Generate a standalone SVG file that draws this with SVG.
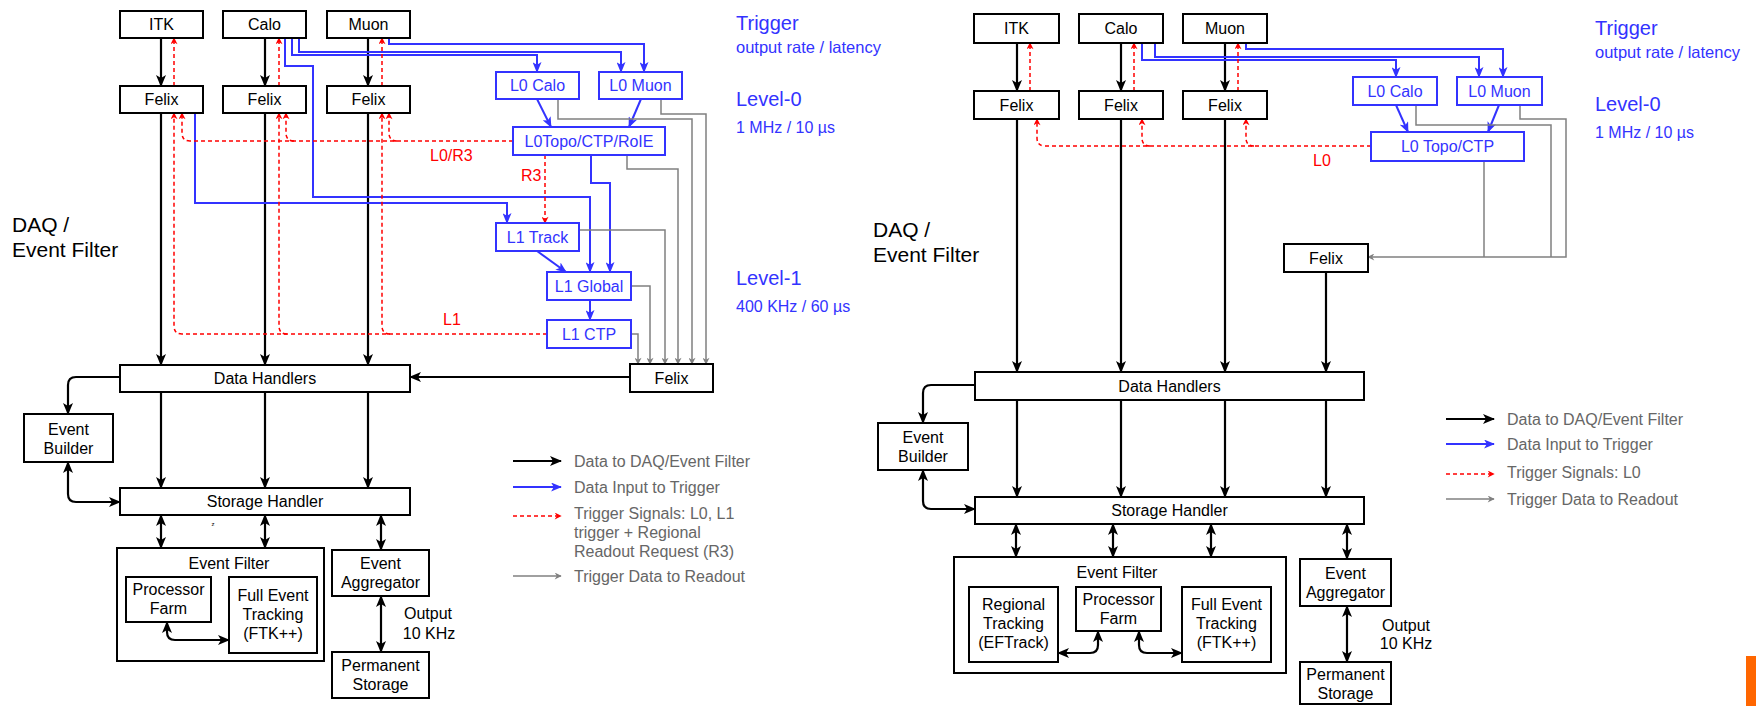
<svg xmlns="http://www.w3.org/2000/svg" width="1756" height="706" viewBox="0 0 1756 706">
<style>
text{font-family:"Liberation Sans",Arial,sans-serif;font-size:16px;}
.box{fill:#fff;stroke:#000;stroke-width:2;}
.cont{fill:none;stroke:#000;stroke-width:2;}
.bbox{fill:#fff;stroke:#3333ff;stroke-width:2;}
.t{text-anchor:middle;dominant-baseline:central;fill:#000;}
.tb{text-anchor:middle;dominant-baseline:central;fill:#3333ff;}
.blk{fill:none;stroke:#000;stroke-width:2.2;marker-end:url(#ab);}
.bi{fill:none;stroke:#000;stroke-width:2.2;marker-end:url(#ab);marker-start:url(#ab);}
.blu{fill:none;stroke:#3333ff;stroke-width:2;marker-end:url(#au);}
.red{fill:none;stroke:#ff0000;stroke-width:1.5;stroke-dasharray:4,3;marker-end:url(#ar);}
.gry{fill:none;stroke:#808080;stroke-width:1.5;marker-end:url(#ag);}
.gln{fill:none;stroke:#808080;stroke-width:1.5;}
.lbl{fill:#3333ff;dominant-baseline:central;}
.rl{fill:#ff0000;dominant-baseline:central;}
.lg{fill:#666;dominant-baseline:central;}
.big{font-size:21px;fill:#000;}
</style>
<defs>
<marker id="ab" viewBox="0 0 12 10" refX="11" refY="5" markerWidth="12" markerHeight="10" markerUnits="userSpaceOnUse" orient="auto-start-reverse"><path d="M0,0 L12,5 L0,10 L3,5 z" fill="#000"/></marker>
<marker id="au" viewBox="0 0 12 10" refX="11" refY="5" markerWidth="11" markerHeight="9" markerUnits="userSpaceOnUse" orient="auto"><path d="M0,0 L12,5 L0,10 L3,5 z" fill="#3333ff"/></marker>
<marker id="ar" viewBox="0 0 10 10" refX="9" refY="5" markerWidth="8" markerHeight="7" markerUnits="userSpaceOnUse" orient="auto"><path d="M0,0 L10,5 L0,10 L3,5 z" fill="#ff0000"/></marker>
<marker id="ag" viewBox="0 0 10 10" refX="9" refY="5" markerWidth="8" markerHeight="7" markerUnits="userSpaceOnUse" orient="auto"><path d="M0,0 L10,5 L0,10 L3,5 z" fill="#808080"/></marker>
</defs>

<!-- ===== LEFT DIAGRAM CONNECTORS ===== -->
<g id="connectors-left">
<path class="blk" d="M161,38 V86"/>
<path class="blk" d="M265,38 V86"/>
<path class="blk" d="M368,38 V86"/>
<path class="blk" d="M161,113 V365"/>
<path class="blk" d="M265,113 V365"/>
<path class="blk" d="M368,113 V365"/>
<path class="blk" d="M630,377 H410"/>
<path class="blk" d="M120,377 H76 Q68,377 68,385 V414"/>
<path class="blk" d="M161,392 V488"/>
<path class="blk" d="M265,392 V488"/>
<path class="blk" d="M368,392 V488"/>
<path class="bi" d="M68,462 V494 Q68,502 76,502 H120"/>
<path class="bi" d="M161,515 V548"/>
<path class="bi" d="M265,515 V548"/>
<path class="bi" d="M381,515 V550"/>
<path class="bi" d="M167,622 V632 Q167,640 175,640 H229"/>
<path class="bi" d="M381,596 V652"/>

<path class="blu" d="M195,113 V203 H507 V223"/>
<path class="blu" d="M285,38 V66 H313 V197 H590 V272"/>
<path class="blu" d="M292,38 V55 H537 V72"/>
<path class="blu" d="M299,38 V52 H621 V72"/>
<path class="blu" d="M389,38 V44 H644 V72"/>
<path class="blu" d="M537,99 L551,127"/>
<path class="blu" d="M641,99 L629,127"/>
<path class="blu" d="M591,155 V183 H610 V272"/>
<path class="blu" d="M537,251 L566,272"/>
<path class="blu" d="M590,300 V320"/>

<path class="red" d="M174,86 V38"/>
<path class="red" d="M279,86 V38"/>
<path class="red" d="M382,86 V38"/>
<path class="red" d="M547,334 H182 Q174,334 174,326 V113"/>
<path class="red" d="M287,334 Q279,334 279,326 V113"/>
<path class="red" d="M390,334 Q382,334 382,326 V113"/>
<path class="red" d="M513,141 H190 Q182,141 182,133 V113"/>
<path class="red" d="M294,141 Q286,141 286,133 V113"/>
<path class="red" d="M397,141 Q389,141 389,133 V113"/>
<path class="red" d="M545,155 V223"/>

<path class="gry" d="M579,230 H665 V364"/>
<path class="gry" d="M631,286 H650 V364"/>
<path class="gry" d="M631,334 H638 V364"/>
<path class="gry" d="M627,155 V169 H678 V364"/>
<path class="gry" d="M558,99 V119 H692 V364"/>
<path class="gry" d="M661,99 V114 H706 V364"/>
</g>

<!-- ===== LEFT DIAGRAM NODES ===== -->
<g id="l-itk"><rect class="box" x="120" y="11" width="83" height="27"/><text class="t" x="161.5" y="24.5">ITK</text></g>
<g id="l-calo"><rect class="box" x="223" y="11" width="83" height="27"/><text class="t" x="264.5" y="24.5">Calo</text></g>
<g id="l-muon"><rect class="box" x="327" y="11" width="83" height="27"/><text class="t" x="368.5" y="24.5">Muon</text></g>
<g id="l-felix1"><rect class="box" x="120" y="86" width="83" height="27"/><text class="t" x="161.5" y="99.5">Felix</text></g>
<g id="l-felix2"><rect class="box" x="223" y="86" width="83" height="27"/><text class="t" x="264.5" y="99.5">Felix</text></g>
<g id="l-felix3"><rect class="box" x="327" y="86" width="83" height="27"/><text class="t" x="368.5" y="99.5">Felix</text></g>
<g id="l-l0calo"><rect class="bbox" x="496" y="72" width="83" height="27"/><text class="tb" x="537.5" y="85.5">L0 Calo</text></g>
<g id="l-l0muon"><rect class="bbox" x="599" y="72" width="83" height="27"/><text class="tb" x="640.5" y="85.5">L0 Muon</text></g>
<g id="l-l0topo"><rect class="bbox" x="513" y="127" width="152" height="28"/><text class="tb" x="589" y="141">L0Topo/CTP/RoIE</text></g>
<g id="l-l1track"><rect class="bbox" x="496" y="223" width="83" height="28"/><text class="tb" x="537.5" y="237">L1 Track</text></g>
<g id="l-l1global"><rect class="bbox" x="547" y="272" width="84" height="28"/><text class="tb" x="589" y="286">L1 Global</text></g>
<g id="l-l1ctp"><rect class="bbox" x="547" y="320" width="84" height="28"/><text class="tb" x="589" y="334">L1 CTP</text></g>
<g id="l-felixr"><rect class="box" x="630" y="364" width="83" height="28"/><text class="t" x="671.5" y="378">Felix</text></g>
<g id="l-dh"><rect class="box" x="120" y="365" width="290" height="27"/><text class="t" x="265" y="378.5">Data Handlers</text></g>
<g id="l-eb"><rect class="box" x="24" y="414" width="89" height="48"/><text class="t" x="68.5" y="429">Event</text><text class="t" x="68.5" y="448">Builder</text></g>
<g id="l-sh"><rect class="box" x="120" y="488" width="290" height="27"/><text class="t" x="265" y="501.5">Storage Handler</text></g>
<g id="l-ef"><rect class="cont" x="117" y="548" width="207" height="113"/><text class="t" x="229" y="563">Event Filter</text></g>
<g id="l-pf"><rect class="box" x="126" y="577" width="85" height="45"/><text class="t" x="168.5" y="589">Processor</text><text class="t" x="168.5" y="608">Farm</text></g>
<g id="l-ftk"><rect class="box" x="229" y="577" width="88" height="76"/><text class="t" x="273" y="595">Full Event</text><text class="t" x="273" y="614">Tracking</text><text class="t" x="273" y="633">(FTK++)</text></g>
<g id="l-ea"><rect class="box" x="332" y="550" width="97" height="46"/><text class="t" x="380.5" y="563">Event</text><text class="t" x="380.5" y="582">Aggregator</text></g>
<g id="l-ps"><rect class="box" x="332" y="652" width="97" height="46"/><text class="t" x="380.5" y="665">Permanent</text><text class="t" x="380.5" y="684">Storage</text></g>

<g id="l-labels">
<text class="big" x="12" y="232">DAQ /</text>
<text class="big" x="12" y="257">Event Filter</text>
<text class="rl" x="430" y="155">L0/R3</text>
<text class="rl" x="521" y="175">R3</text>
<text class="rl" x="443" y="319">L1</text>
<text class="lbl" x="736" y="23" style="font-size:20px">Trigger</text>
<text class="lbl" x="736" y="47" style="font-size:16.5px">output rate / latency</text>
<text class="lbl" x="736" y="99" style="font-size:20px">Level-0</text>
<text class="lbl" x="736" y="127">1 MHz / 10 µs</text>
<text class="lbl" x="736" y="278" style="font-size:20px">Level-1</text>
<text class="lbl" x="736" y="306">400 KHz / 60 µs</text>
<text x="428" y="613" class="t">Output</text>
<text x="429" y="633" class="t">10 KHz</text>
<text x="213" y="526" style="font-size:6px" text-anchor="middle">z</text>
</g>

<g id="l-legend">
<path d="M513,461 H561" class="blk"/>
<path d="M513,487 H561" class="blu"/>
<path d="M513,516 H561" class="red"/>
<path d="M513,576 H561" class="gry"/>
<text class="lg" x="574" y="461">Data to DAQ/Event Filter</text>
<text class="lg" x="574" y="487">Data Input to Trigger</text>
<text class="lg" x="574" y="513">Trigger Signals: L0, L1</text>
<text class="lg" x="574" y="532">trigger + Regional</text>
<text class="lg" x="574" y="551">Readout Request (R3)</text>
<text class="lg" x="574" y="576">Trigger Data to Readout</text>
</g>

<!-- ===== RIGHT DIAGRAM CONNECTORS ===== -->
<g id="connectors-right">
<path class="blk" d="M1017,43 V91"/>
<path class="blk" d="M1121,43 V91"/>
<path class="blk" d="M1225,43 V91"/>
<path class="blk" d="M1017,119 V372"/>
<path class="blk" d="M1121,119 V372"/>
<path class="blk" d="M1225,119 V372"/>
<path class="blk" d="M1326,272 V372"/>
<path class="blk" d="M975,385 H931 Q923,385 923,393 V423"/>
<path class="blk" d="M1017,400 V497"/>
<path class="blk" d="M1121,400 V497"/>
<path class="blk" d="M1225,400 V497"/>
<path class="blk" d="M1326,400 V497"/>
<path class="bi" d="M923,470 V501 Q923,509 931,509 H975"/>
<path class="bi" d="M1016,524 V557"/>
<path class="bi" d="M1113,524 V557"/>
<path class="bi" d="M1211,524 V557"/>
<path class="bi" d="M1347,524 V559"/>
<path class="bi" d="M1098,631 V645 Q1098,653 1090,653 H1058"/>
<path class="bi" d="M1139,631 V645 Q1139,653 1147,653 H1182"/>
<path class="bi" d="M1347,606 V662"/>

<path class="blu" d="M1142,43 V60 H1396 V77"/>
<path class="blu" d="M1155,43 V57 H1479 V77"/>
<path class="blu" d="M1246,43 V49 H1503 V77"/>
<path class="blu" d="M1396,105 L1408,132"/>
<path class="blu" d="M1499,105 L1488,132"/>

<path class="red" d="M1030,91 V43"/>
<path class="red" d="M1134,91 V43"/>
<path class="red" d="M1238,91 V43"/>
<path class="red" d="M1371,146 H1045 Q1037,146 1037,138 V119"/>
<path class="red" d="M1150,146 Q1142,146 1142,138 V119"/>
<path class="red" d="M1254,146 Q1246,146 1246,138 V119"/>

<path class="gln" d="M1416,105 V125 H1551 V257"/>
<path class="gln" d="M1484,161 V257"/>
<path class="gry" d="M1520,105 V119 H1566 V257 H1368"/>
</g>

<!-- ===== RIGHT DIAGRAM NODES ===== -->
<g id="r-itk"><rect class="box" x="974" y="14" width="85" height="29"/><text class="t" x="1016.5" y="28.5">ITK</text></g>
<g id="r-calo"><rect class="box" x="1079" y="14" width="84" height="29"/><text class="t" x="1121" y="28.5">Calo</text></g>
<g id="r-muon"><rect class="box" x="1183" y="14" width="84" height="29"/><text class="t" x="1225" y="28.5">Muon</text></g>
<g id="r-felix1"><rect class="box" x="974" y="91" width="85" height="28"/><text class="t" x="1016.5" y="105">Felix</text></g>
<g id="r-felix2"><rect class="box" x="1079" y="91" width="84" height="28"/><text class="t" x="1121" y="105">Felix</text></g>
<g id="r-felix3"><rect class="box" x="1183" y="91" width="84" height="28"/><text class="t" x="1225" y="105">Felix</text></g>
<g id="r-l0calo"><rect class="bbox" x="1353" y="77" width="84" height="28"/><text class="tb" x="1395" y="91">L0 Calo</text></g>
<g id="r-l0muon"><rect class="bbox" x="1457" y="77" width="85" height="28"/><text class="tb" x="1499.5" y="91">L0 Muon</text></g>
<g id="r-l0topo"><rect class="bbox" x="1371" y="132" width="153" height="29"/><text class="tb" x="1447.5" y="146.5">L0 Topo/CTP</text></g>
<g id="r-felixr"><rect class="box" x="1284" y="244" width="84" height="28"/><text class="t" x="1326" y="258">Felix</text></g>
<g id="r-dh"><rect class="box" x="975" y="372" width="389" height="28"/><text class="t" x="1169.5" y="386">Data Handlers</text></g>
<g id="r-eb"><rect class="box" x="878" y="423" width="90" height="47"/><text class="t" x="923" y="437">Event</text><text class="t" x="923" y="456">Builder</text></g>
<g id="r-sh"><rect class="box" x="975" y="497" width="389" height="27"/><text class="t" x="1169.5" y="510.5">Storage Handler</text></g>
<g id="r-ef"><rect class="cont" x="954" y="557" width="332" height="116"/><text class="t" x="1117" y="572">Event Filter</text></g>
<g id="r-rt"><rect class="box" x="969" y="587" width="89" height="75"/><text class="t" x="1013.5" y="604">Regional</text><text class="t" x="1013.5" y="623">Tracking</text><text class="t" x="1013.5" y="642">(EFTrack)</text></g>
<g id="r-pf"><rect class="box" x="1076" y="587" width="85" height="44"/><text class="t" x="1118.5" y="599">Processor</text><text class="t" x="1118.5" y="618">Farm</text></g>
<g id="r-ftk"><rect class="box" x="1182" y="587" width="89" height="75"/><text class="t" x="1226.5" y="604">Full Event</text><text class="t" x="1226.5" y="623">Tracking</text><text class="t" x="1226.5" y="642">(FTK++)</text></g>
<g id="r-ea"><rect class="box" x="1300" y="559" width="91" height="47"/><text class="t" x="1345.5" y="573">Event</text><text class="t" x="1345.5" y="592">Aggregator</text></g>
<g id="r-ps"><rect class="box" x="1300" y="662" width="91" height="42"/><text class="t" x="1345.5" y="674">Permanent</text><text class="t" x="1345.5" y="693">Storage</text></g>

<g id="r-labels">
<text class="big" x="873" y="237">DAQ /</text>
<text class="big" x="873" y="262">Event Filter</text>
<text class="rl" x="1313" y="160">L0</text>
<text class="lbl" x="1595" y="28" style="font-size:20px">Trigger</text>
<text class="lbl" x="1595" y="52" style="font-size:16.5px">output rate / latency</text>
<text class="lbl" x="1595" y="104" style="font-size:20px">Level-0</text>
<text class="lbl" x="1595" y="132">1 MHz / 10 µs</text>
<text x="1406" y="625" class="t">Output</text>
<text x="1406" y="643" class="t">10 KHz</text>
</g>

<g id="r-legend">
<path d="M1446,419 H1494" class="blk"/>
<path d="M1446,444 H1494" class="blu"/>
<path d="M1446,474 H1494" class="red"/>
<path d="M1446,499 H1494" class="gry"/>
<text class="lg" x="1507" y="419">Data to DAQ/Event Filter</text>
<text class="lg" x="1507" y="444">Data Input to Trigger</text>
<text class="lg" x="1507" y="472">Trigger Signals: L0</text>
<text class="lg" x="1507" y="499">Trigger Data to Readout</text>
</g>

<rect x="1746" y="656" width="10" height="50" fill="#ff6600"/>
</svg>
